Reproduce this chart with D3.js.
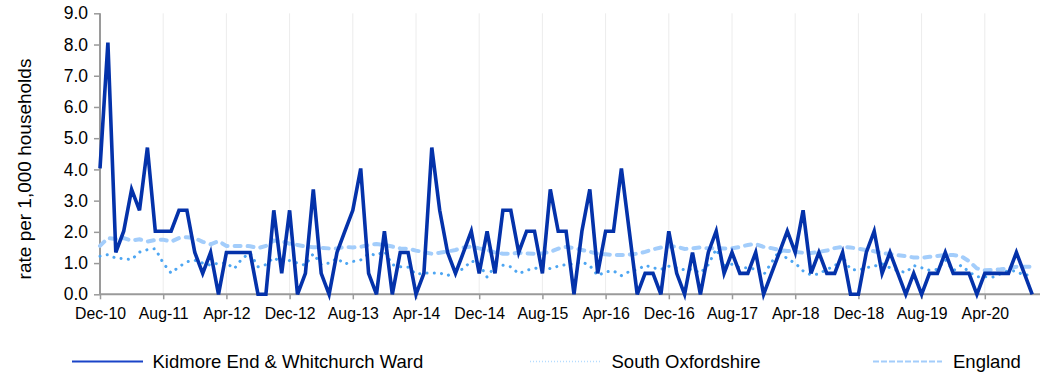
<!DOCTYPE html>
<html>
<head>
<meta charset="utf-8">
<script src="https://cdn.jsdelivr.net/npm/d3@7/dist/d3.min.js"></script>
<style>
  html, body { margin: 0; padding: 0; background: #ffffff; }
  svg { display: block; }
  text { font-family: "Liberation Sans", Arial, sans-serif; fill: #000; }
</style>
</head>
<body>
<svg id="chart" width="1044" height="390"></svg>
<script>
// Monthly series, Dec-10 to Oct-20
const firstMonth = new Date(2010, 11, 1);
const lastMonth = new Date(2020, 9, 1);

const kidmore = [
  4.03, 8.06, 1.34, 2.02, 3.36, 2.69, 4.70, 2.02, 2.02, 2.02,
  2.69, 2.69, 1.34, 0.67, 1.34, 0, 1.34, 1.34, 1.34, 1.34,
  0, 0, 2.69, 0.67, 2.69, 0, 0.67, 3.36, 0.67, 0,
  1.34, 2.02, 2.69, 4.03, 0.67, 0, 2.02, 0, 1.34, 1.34,
  0, 0.67, 4.70, 2.69, 1.34, 0.67, 1.34, 2.02, 0.67, 2.02,
  0.67, 2.69, 2.69, 1.34, 2.02, 2.02, 0.67, 3.36, 2.02, 2.02,
  0, 2.02, 3.36, 0.67, 2.02, 2.02, 4.03, 2.02, 0, 0.67,
  0.67, 0, 2.02, 0.67, 0, 1.34, 0, 1.34, 2.02, 0.67,
  1.34, 0.67, 0.67, 1.34, 0, 0.67, 1.34, 2.02, 1.34, 2.69,
  0.67, 1.34, 0.67, 0.67, 1.34, 0, 0, 1.34, 2.02, 0.67,
  1.34, 0.67, 0, 0.67, 0, 0.67, 0.67, 1.34, 0.67, 0.67,
  0.67, 0, 0.67, 0.67, 0.67, 0.67, 1.34, 0.67, 0
];

const southOxfordshire = [
  1.22, 1.27, 1.16, 1.14, 1.11, 1.35, 1.43, 1.46, 1.00, 0.68,
  0.88, 1.04, 1.09, 1.00, 0.93, 1.00, 1.00, 0.82, 1.15, 1.32,
  0.88, 0.95, 1.18, 1.00, 1.08, 1.00, 0.93, 1.30, 0.95, 1.00,
  1.15, 0.97, 1.05, 1.10, 1.30, 1.25, 1.38, 0.95, 0.88, 0.87,
  0.64, 0.68, 0.68, 0.68, 0.60, 0.72, 0.82, 1.07, 0.98, 0.55,
  0.90, 0.93, 0.88, 0.66, 0.77, 0.82, 0.90, 0.82, 0.90, 0.95,
  0.97, 1.04, 0.92, 0.60, 0.72, 0.75, 0.60, 0.73, 0.78, 0.93,
  0.85, 0.80, 0.90, 0.85, 0.78, 0.80, 0.68, 0.95, 1.45, 0.93,
  0.96, 0.85, 0.85, 0.80, 0.62, 1.02, 1.40, 1.13, 1.00, 0.75,
  0.62, 0.65, 0.80, 0.90, 1.20, 0.80, 0.77, 0.85, 0.90, 0.98,
  0.85, 0.75, 0.70, 0.92, 0.85, 0.77, 0.80, 1.11, 0.75, 0.93,
  0.72, 0.56, 0.56, 0.55, 0.66, 0.76, 0.74, 0.60, 0.66
];

const england = [
  1.55, 1.80, 1.77, 1.80, 1.72, 1.76, 1.69, 1.74, 1.75, 1.69,
  1.80, 1.83, 1.80, 1.68, 1.60, 1.70, 1.55, 1.55, 1.55, 1.54,
  1.48, 1.55, 1.72, 1.70, 1.62, 1.58, 1.53, 1.51, 1.49, 1.47,
  1.47, 1.52, 1.50, 1.52, 1.58, 1.61, 1.58, 1.53, 1.47, 1.46,
  1.40, 1.35, 1.30, 1.33, 1.37, 1.42, 1.50, 1.53, 1.47, 1.42,
  1.34, 1.30, 1.30, 1.33, 1.31, 1.30, 1.31, 1.36, 1.46, 1.52,
  1.48, 1.42, 1.36, 1.30, 1.28, 1.26, 1.26, 1.27, 1.30, 1.36,
  1.44, 1.50, 1.53, 1.53, 1.45, 1.47, 1.50, 1.47, 1.48, 1.47,
  1.47, 1.52, 1.58, 1.61, 1.52, 1.48, 1.42, 1.39, 1.36, 1.33,
  1.32, 1.36, 1.40, 1.48, 1.52, 1.50, 1.46, 1.42, 1.38, 1.32,
  1.29, 1.25, 1.22, 1.18, 1.17, 1.20, 1.23, 1.26, 1.26, 1.22,
  1.06, 0.83, 0.77, 0.78, 0.80, 0.83, 0.88, 0.88, 0.88
];

const tickLabels = ["Dec-10", "Aug-11", "Apr-12", "Dec-12", "Aug-13", "Apr-14", "Dec-14",
  "Aug-15", "Apr-16", "Dec-16", "Aug-17", "Apr-18", "Dec-18", "Aug-19", "Apr-20"];
const yTicks = [0, 1, 2, 3, 4, 5, 6, 7, 8, 9];

const seriesNames = ["Kidmore End & Whitchurch Ward", "South Oxfordshire", "England"];

const months = d3.timeMonth.range(firstMonth, d3.timeMonth.offset(lastMonth, 1));
const fmt = d3.timeFormat("%b-%y");
const monthKeys = months.map(fmt);

const svg = d3.select("#chart");
svg.append("rect").attr("width", 1044).attr("height", 390).attr("fill", "#fff");

const plotLeft = 100, plotTop = 13.3, plotBottom = 294.3, plotRight = 1040;
const step = 7.9;

const x = d3.scalePoint().domain(monthKeys).range([plotLeft, plotLeft + step * (monthKeys.length - 1)]);
const y = d3.scaleLinear().domain([0, 9]).range([plotBottom, plotTop]);

// vertical gridlines at the labelled months
svg.append("g").selectAll("line")
  .data(tickLabels.slice(1))
  .join("line")
  .attr("x1", d => x(d)).attr("x2", d => x(d))
  .attr("y1", plotTop).attr("y2", plotBottom)
  .attr("stroke", "#ececec").attr("stroke-width", 1);

// x axis
const xAxis = d3.axisBottom(x).tickValues(tickLabels).tickSize(5).tickPadding(8);
const gx = svg.append("g").attr("transform", `translate(0,${plotBottom})`).call(xAxis);
gx.select(".domain").attr("d", `M${plotLeft},0H${plotRight}`).attr("stroke", "#9a9a9a").attr("stroke-width", 2);
gx.selectAll(".tick line").attr("stroke", "#9a9a9a").attr("stroke-width", 1.5);
gx.selectAll(".tick text").attr("font-size", 15.8).attr("font-family", "Liberation Sans, Arial, sans-serif").attr("fill", "#000");

// y axis
const yAxis = d3.axisLeft(y).tickValues(yTicks).tickFormat(d3.format(".1f")).tickSize(6).tickPadding(6);
const gy = svg.append("g").attr("transform", `translate(${plotLeft},0)`).call(yAxis);
gy.select(".domain").attr("d", `M0,${plotBottom}V${plotTop}`).attr("stroke", "#9a9a9a").attr("stroke-width", 2);
gy.selectAll(".tick line").attr("stroke", "#9a9a9a").attr("stroke-width", 1.5);
gy.selectAll(".tick text").attr("font-size", 17.5).attr("font-family", "Liberation Sans, Arial, sans-serif").attr("fill", "#000");

// y axis title
svg.append("text")
  .attr("transform", "translate(31,169) rotate(-90)")
  .attr("text-anchor", "middle")
  .attr("font-size", 19)
  .text("rate per 1,000 households");

const line = d3.line()
  .x((d, i) => x(monthKeys[i]))
  .y(d => y(d));

const styles = [
  { color: "#0432aa", width: 3.6, dash: null, cap: "butt" },
  { color: "#4ea6f2", width: 3, dash: "0.1,7.2", cap: "round" },
  { color: "#a3cdfb", width: 4, dash: "6,7", cap: "round" }
];
const allSeries = [kidmore, southOxfordshire, england];

// draw England first, then South Oxfordshire, then the ward on top
[2, 1, 0].forEach(k => {
  svg.append("path")
    .datum(allSeries[k])
    .attr("d", line)
    .attr("fill", "none")
    .attr("stroke", styles[k].color)
    .attr("stroke-width", styles[k].width)
    .attr("stroke-dasharray", styles[k].dash)
    .attr("stroke-linecap", styles[k].cap)
    .attr("stroke-linejoin", "miter");
});

// legend
const legendY = 361.5;
const legend = [
  { x1: 72, x2: 143, tx: 152.5, color: "#1a44c8", width: 2, dash: null },
  { x1: 530, x2: 600, tx: 611.5, color: "#b5dcff", width: 1.5, dash: "1,2" },
  { x1: 873, x2: 942, tx: 953, color: "#a3cdfb", width: 2, dash: "6,2" }
];
legend.forEach((l, i) => {
  svg.append("line")
    .attr("x1", l.x1).attr("x2", l.x2).attr("y1", legendY).attr("y2", legendY)
    .attr("stroke", l.color).attr("stroke-width", l.width)
    .attr("stroke-dasharray", l.dash);
  svg.append("text")
    .attr("x", l.tx).attr("y", legendY + 6.5)
    .attr("font-size", 18.5)
    .text(seriesNames[i]);
});
</script>
</body>
</html>
